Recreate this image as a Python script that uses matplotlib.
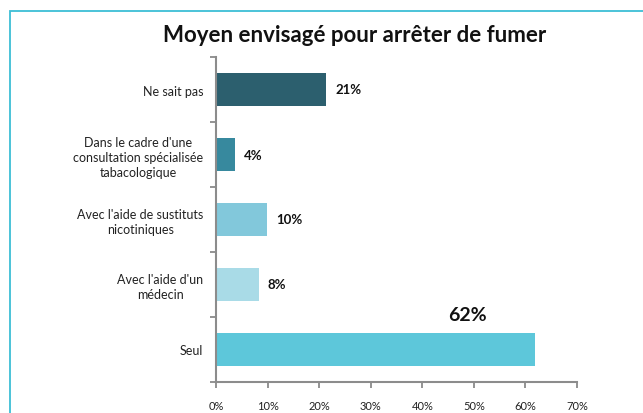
import matplotlib
matplotlib.use("Agg")

import matplotlib.pyplot as plt
import matplotlib.patches as mpatches
import numpy as np

# Données
categories = [
    "Ne sait pas",
    "Dans le cadre d'une\nconsultation spécialisée\ntabacologique",
    "Avec l'aide de sustituts\nnicotiniques",
    "Avec l'aide d'un\nmédecin",
    "Seul",
]
values = [0.214, 0.037, 0.099, 0.083, 0.619]
labels = ["21%", "4%", "10%", "8%", "62%"]
colors = ["#2C5F6E", "#37899E", "#82C8DB", "#A9DBE7", "#5DC7DA"]
x_ticks = [0.0, 0.1, 0.2, 0.3, 0.4, 0.5, 0.6, 0.7]
x_ticklabels = ["0%", "10%", "20%", "30%", "40%", "50%", "60%", "70%"]

plt.rcParams.update({
    "font.family": ["Lato", "DejaVu Sans"],
})

W, H = 643, 414
fig = plt.figure(figsize=(W / 100, H / 100), dpi=100)
ax = fig.add_axes([216 / W, 1 - 383 / H, (577 - 216) / W, (383 - 58) / H])

# cadre bleu autour du graphique
frame = mpatches.Rectangle((10 / W, -0.1), 1.2, 1.1 - 12 / H,
                           transform=fig.transFigure, fill=False,
                           edgecolor="#3DBED5", linewidth=1.3, clip_on=False)
fig.patches.append(frame)

y = np.arange(len(categories))
bars = ax.barh(y, values, height=0.5, color=colors)

ax.set_xlim(0, 0.7)
ax.set_ylim(len(categories) - 0.5, -0.5)

ax.set_xticks(x_ticks)
ax.set_xticklabels(x_ticklabels, fontsize=8, color="#222222")
ax.set_yticks(y)
ax.set_yticklabels(categories, fontsize=9, color="#222222",
                   multialignment="center", linespacing=1.3)
ax.set_yticks(np.arange(len(categories) + 1) - 0.5, minor=True)

ax.tick_params(axis="y", which="major", length=0, pad=9)
ax.tick_params(axis="y", which="minor", length=4, width=1.2, color="#808080",
               direction="out")
ax.tick_params(axis="x", length=4, width=1.2, color="#808080", pad=9)

for side in ["top", "right"]:
    ax.spines[side].set_visible(False)
for side in ["left", "bottom"]:
    ax.spines[side].set_color("#8C8C8C")
    ax.spines[side].set_linewidth(1.5)

for i, (bar, val, lab) in enumerate(zip(bars, values, labels)):
    yc = bar.get_y() + bar.get_height() / 2
    if i == len(values) - 1:
        ax.annotate(lab, (val, yc), xytext=(-68, 35), textcoords="offset pixels",
                    ha="center", va="center", fontsize=14, fontweight="bold",
                    color="#111111")
    else:
        ax.annotate(lab, (val, yc), xytext=(9, 0), textcoords="offset pixels",
                    ha="left", va="center", fontsize=9.5, fontweight="bold",
                    color="#111111")

fig.text(355 / W, 1 - 35 / H, "Moyen envisagé pour arrêter de fumer",
         ha="center", va="center", fontsize=16, fontweight="bold",
         color="#111111")

fig.savefig("out.png", dpi=100)
